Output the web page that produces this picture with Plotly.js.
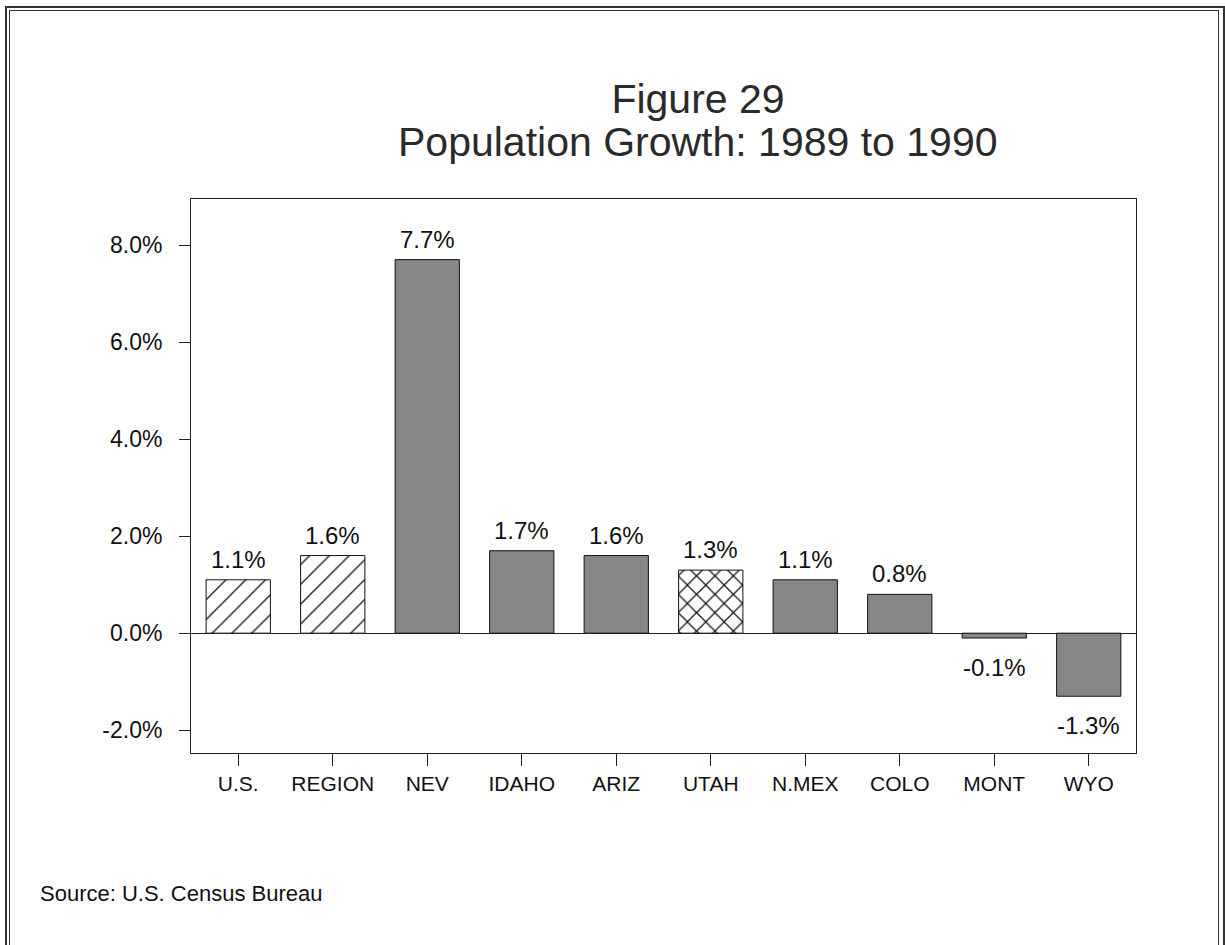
<!DOCTYPE html>
<html>
<head>
<meta charset="utf-8">
<script src="https://cdn.plot.ly/plotly-3.0.1.min.js"></script>
<style>
  html, body { margin: 0; padding: 0; background: #fff; overflow: hidden; }
  #wrap { position: relative; width: 1225px; height: 945px; }
  #chart { position: absolute; left: 0; top: 0; width: 1225px; height: 945px; }
  .frame { position: absolute; border: 1px solid #333; pointer-events: none; }
</style>
</head>
<body>
<div id="wrap">
  <div id="chart"></div>
  <div class="frame" style="left:5px; top:6px; width:1216px; height:1000px; border-width:2px;"></div>
  <div class="frame" style="left:9px; top:10px; width:1208px; height:1000px;"></div>
</div>
<script>
const categories = ["U.S.", "REGION", "NEV", "IDAHO", "ARIZ", "UTAH", "N.MEX", "COLO", "MONT", "WYO"];
const growth = [1.1, 1.6, 7.7, 1.7, 1.6, 1.3, 1.1, 0.8, -0.1, -1.3];
const fillStyle = ["hatch", "hatch", "solid", "solid", "solid", "cross", "solid", "solid", "solid", "solid"];
const yTickVals = [-2, 0, 2, 4, 6, 8];
const yTickText = ["-2.0%", "0.0%", "2.0%", "4.0%", "6.0%", "8.0%"];
const titleLine1 = "Figure 29";
const titleLine2 = "Population Growth: 1989 to 1990";
const sourceNote = "Source: U.S. Census Bureau";

const FONT = "Liberation Sans, Arial, Helvetica, sans-serif";

function subset(style) {
  const xs = [], ys = [];
  categories.forEach((c, i) => { if (fillStyle[i] === style) { xs.push(c); ys.push(growth[i]); } });
  return { xs, ys };
}

const s = subset("solid"), h = subset("hatch"), c = subset("cross");

const traces = [
  {
    type: "bar", x: s.xs, y: s.ys, width: 0.68,
    marker: { color: "#868686", line: { color: "#111", width: 1 } },
    hoverinfo: "skip"
  },
  {
    type: "bar", x: h.xs, y: h.ys, width: 0.68,
    marker: {
      color: "#ffffff",
      line: { color: "#111", width: 1 },
      pattern: { shape: "/", fgcolor: "#111", bgcolor: "#ffffff", fgopacity: 1, size: 14, solidity: 0.09 }
    },
    hoverinfo: "skip"
  },
  {
    type: "bar", x: c.xs, y: c.ys, width: 0.68,
    marker: {
      color: "#ffffff",
      line: { color: "#111", width: 1 },
      pattern: { shape: "x", fgcolor: "#111", bgcolor: "#ffffff", fgopacity: 1, size: 13, solidity: 0.18 }
    },
    hoverinfo: "skip"
  }
];

const annotations = growth.map((v, i) => ({
  x: categories[i],
  y: v,
  xref: "x",
  yref: "y",
  text: v.toFixed(1) + "%",
  showarrow: false,
  yanchor: v >= 0 ? "bottom" : "top",
  yshift: v >= 0 ? 5 : -14,
  font: { family: FONT, size: 24, color: "#111" }
}));

annotations.push({
  xref: "paper", yref: "paper",
  x: (38 - 191) / 945, y: (753 - 893) / 554,
  xanchor: "left", yanchor: "middle",
  text: sourceNote,
  showarrow: false,
  font: { family: FONT, size: 22, color: "#111" }
});

annotations.push({
  xref: "paper", yref: "paper",
  x: (698 - 191) / 945, y: (753 - 142) / 554,
  xanchor: "center", yanchor: "middle",
  text: titleLine2,
  showarrow: false,
  font: { family: FONT, size: 41, color: "#2a2a2a" }
});

const layout = {
  width: 1225,
  height: 945,
  margin: { l: 191, r: 89, t: 199, b: 192 },
  paper_bgcolor: "#ffffff",
  plot_bgcolor: "#ffffff",
  showlegend: false,
  barmode: "overlay",
  title: {
    text: titleLine1,
    x: 698 / 1225,
    xanchor: "center",
    y: 1 - 99 / 945,
    yanchor: "middle",
    font: { family: FONT, size: 41, color: "#2a2a2a" }
  },
  xaxis: {
    type: "category",
    categoryorder: "array",
    categoryarray: categories,
    range: [-0.5, 9.5],
    showline: true,
    mirror: true,
    linecolor: "#222",
    linewidth: 1,
    ticks: "outside",
    ticklen: 12,
    tickcolor: "#222",
    tickwidth: 1,
    showgrid: false,
    tickfont: { family: FONT, size: 21, color: "#111" },
    fixedrange: true
  },
  yaxis: {
    range: [-2.47, 8.95],
    tickvals: yTickVals,
    ticktext: yTickText,
    showline: true,
    mirror: true,
    linecolor: "#222",
    linewidth: 1,
    ticks: "outside",
    ticklen: 11,
    tickcolor: "#222",
    tickwidth: 1,
    ticklabelstandoff: 12,
    showgrid: false,
    zeroline: true,
    zerolinecolor: "#222",
    zerolinewidth: 1,
    tickfont: { family: FONT, size: 23, color: "#111" },
    fixedrange: true
  },
  annotations: annotations
};

Plotly.newPlot("chart", traces, layout, { displayModeBar: false, staticPlot: true });
</script>
</body>
</html>
